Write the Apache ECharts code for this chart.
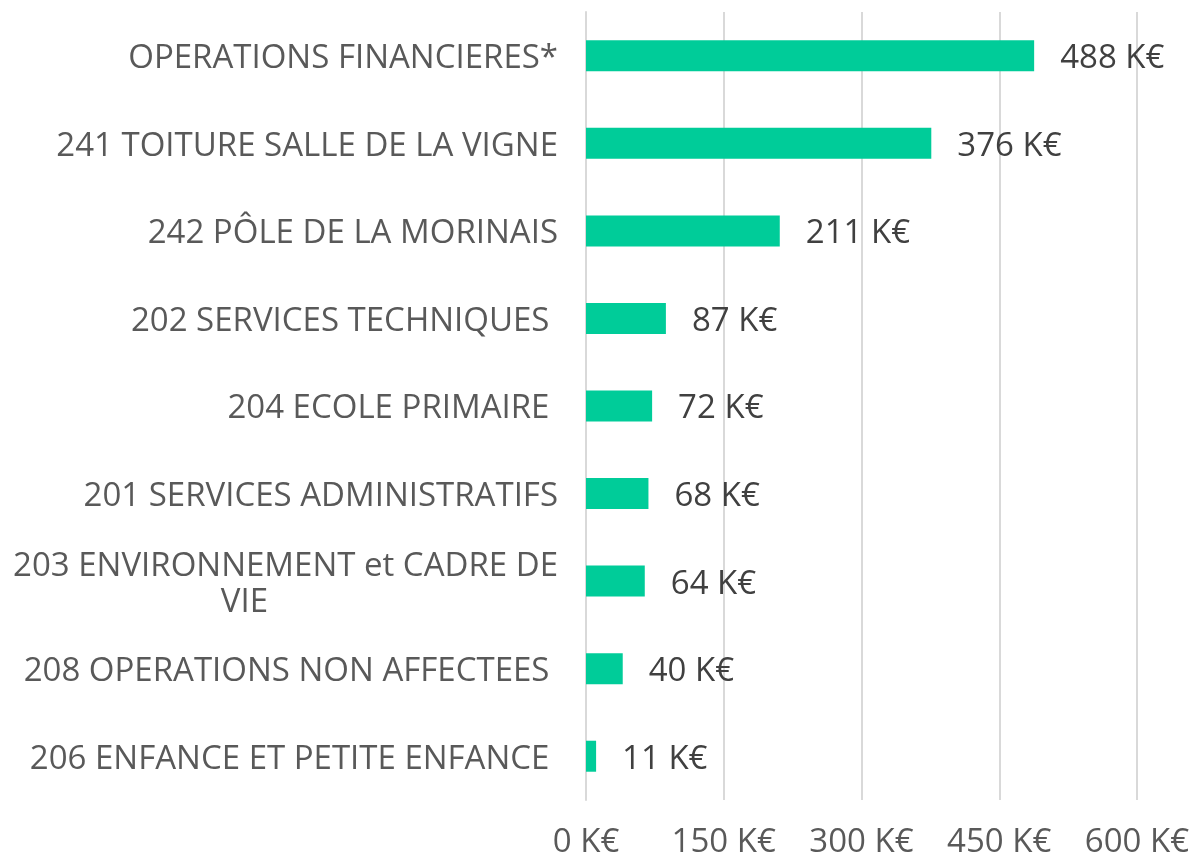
<!DOCTYPE html>
<html>
<head>
<meta charset="utf-8">
<script src="https://cdn.jsdelivr.net/npm/echarts@6/dist/echarts.min.js"></script>
<style>
  html, body { margin: 0; padding: 0; background: #fff; }
  #chart { width: 1202px; height: 855px; }
</style>
</head>
<body>
<div id="chart"></div>
<script>
// categories top to bottom
const categories = [
  'OPERATIONS FINANCIERES*',
  '241 TOITURE SALLE DE LA VIGNE',
  '242 PÔLE DE LA MORINAIS',
  '202 SERVICES TECHNIQUES ',
  '204 ECOLE PRIMAIRE ',
  '201 SERVICES ADMINISTRATIFS',
  '203 ENVIRONNEMENT et CADRE DE VIE',
  '208 OPERATIONS NON AFFECTEES ',
  '206 ENFANCE ET PETITE ENFANCE '
]
const values = [488, 376, 211, 87, 72, 68, 64, 40, 11]
const xTicks = [0, 150, 300, 450, 600]

const chart = echarts.init(document.getElementById('chart'))

const font = 'Open Sans'
const fs = 33

chart.setOption({
  animation: false,
  grid: { left: 586, right: 65, top: 12, bottom: 55, outerBoundsMode: 'none' },
  xAxis: {
    type: 'value',
    min: xTicks[0],
    max: xTicks[xTicks.length - 1],
    interval: 150,
    axisLine: { show: false },
    axisTick: { show: false },
    splitLine: { lineStyle: { color: '#d9d9d9', width: 2 } },
    axisLabel: {
      margin: 26,
      color: '#595959',
      fontFamily: font,
      fontSize: fs,
      formatter: v => v + ' K€'
    }
  },
  yAxis: {
    type: 'category',
    inverse: true,
    data: categories,
    axisLine: { show: true, lineStyle: { color: '#d9d9d9', width: 2 } },
    axisTick: { show: false },
    axisLabel: {
      margin: 28,
      padding: [6, 0, 0, 0],
      color: '#595959',
      fontFamily: font,
      fontSize: fs,
      formatter: v => {
        if (v.indexOf('CADRE DE VIE') >= 0) {
          return '{a|203 ENVIRONNEMENT et CADRE DE}\n{b|VIE}'
        }
        return v
      },
      rich: {
        a: { color: '#595959', fontFamily: font, fontSize: fs, lineHeight: 36 },
        b: { color: '#595959', fontFamily: font, fontSize: fs, lineHeight: 36, padding: [0, 290, 0, 0] }
      }
    }
  },
  series: [{
    type: 'bar',
    data: values,
    barWidth: 31,
    itemStyle: { color: '#00cc99' },
    label: {
      show: true,
      position: 'right',
      distance: 26,
      offset: [0, 3],
      color: '#404040',
      fontFamily: font,
      fontSize: fs,
      formatter: p => p.value + ' K€'
    }
  }]
})
</script>
</body>
</html>
